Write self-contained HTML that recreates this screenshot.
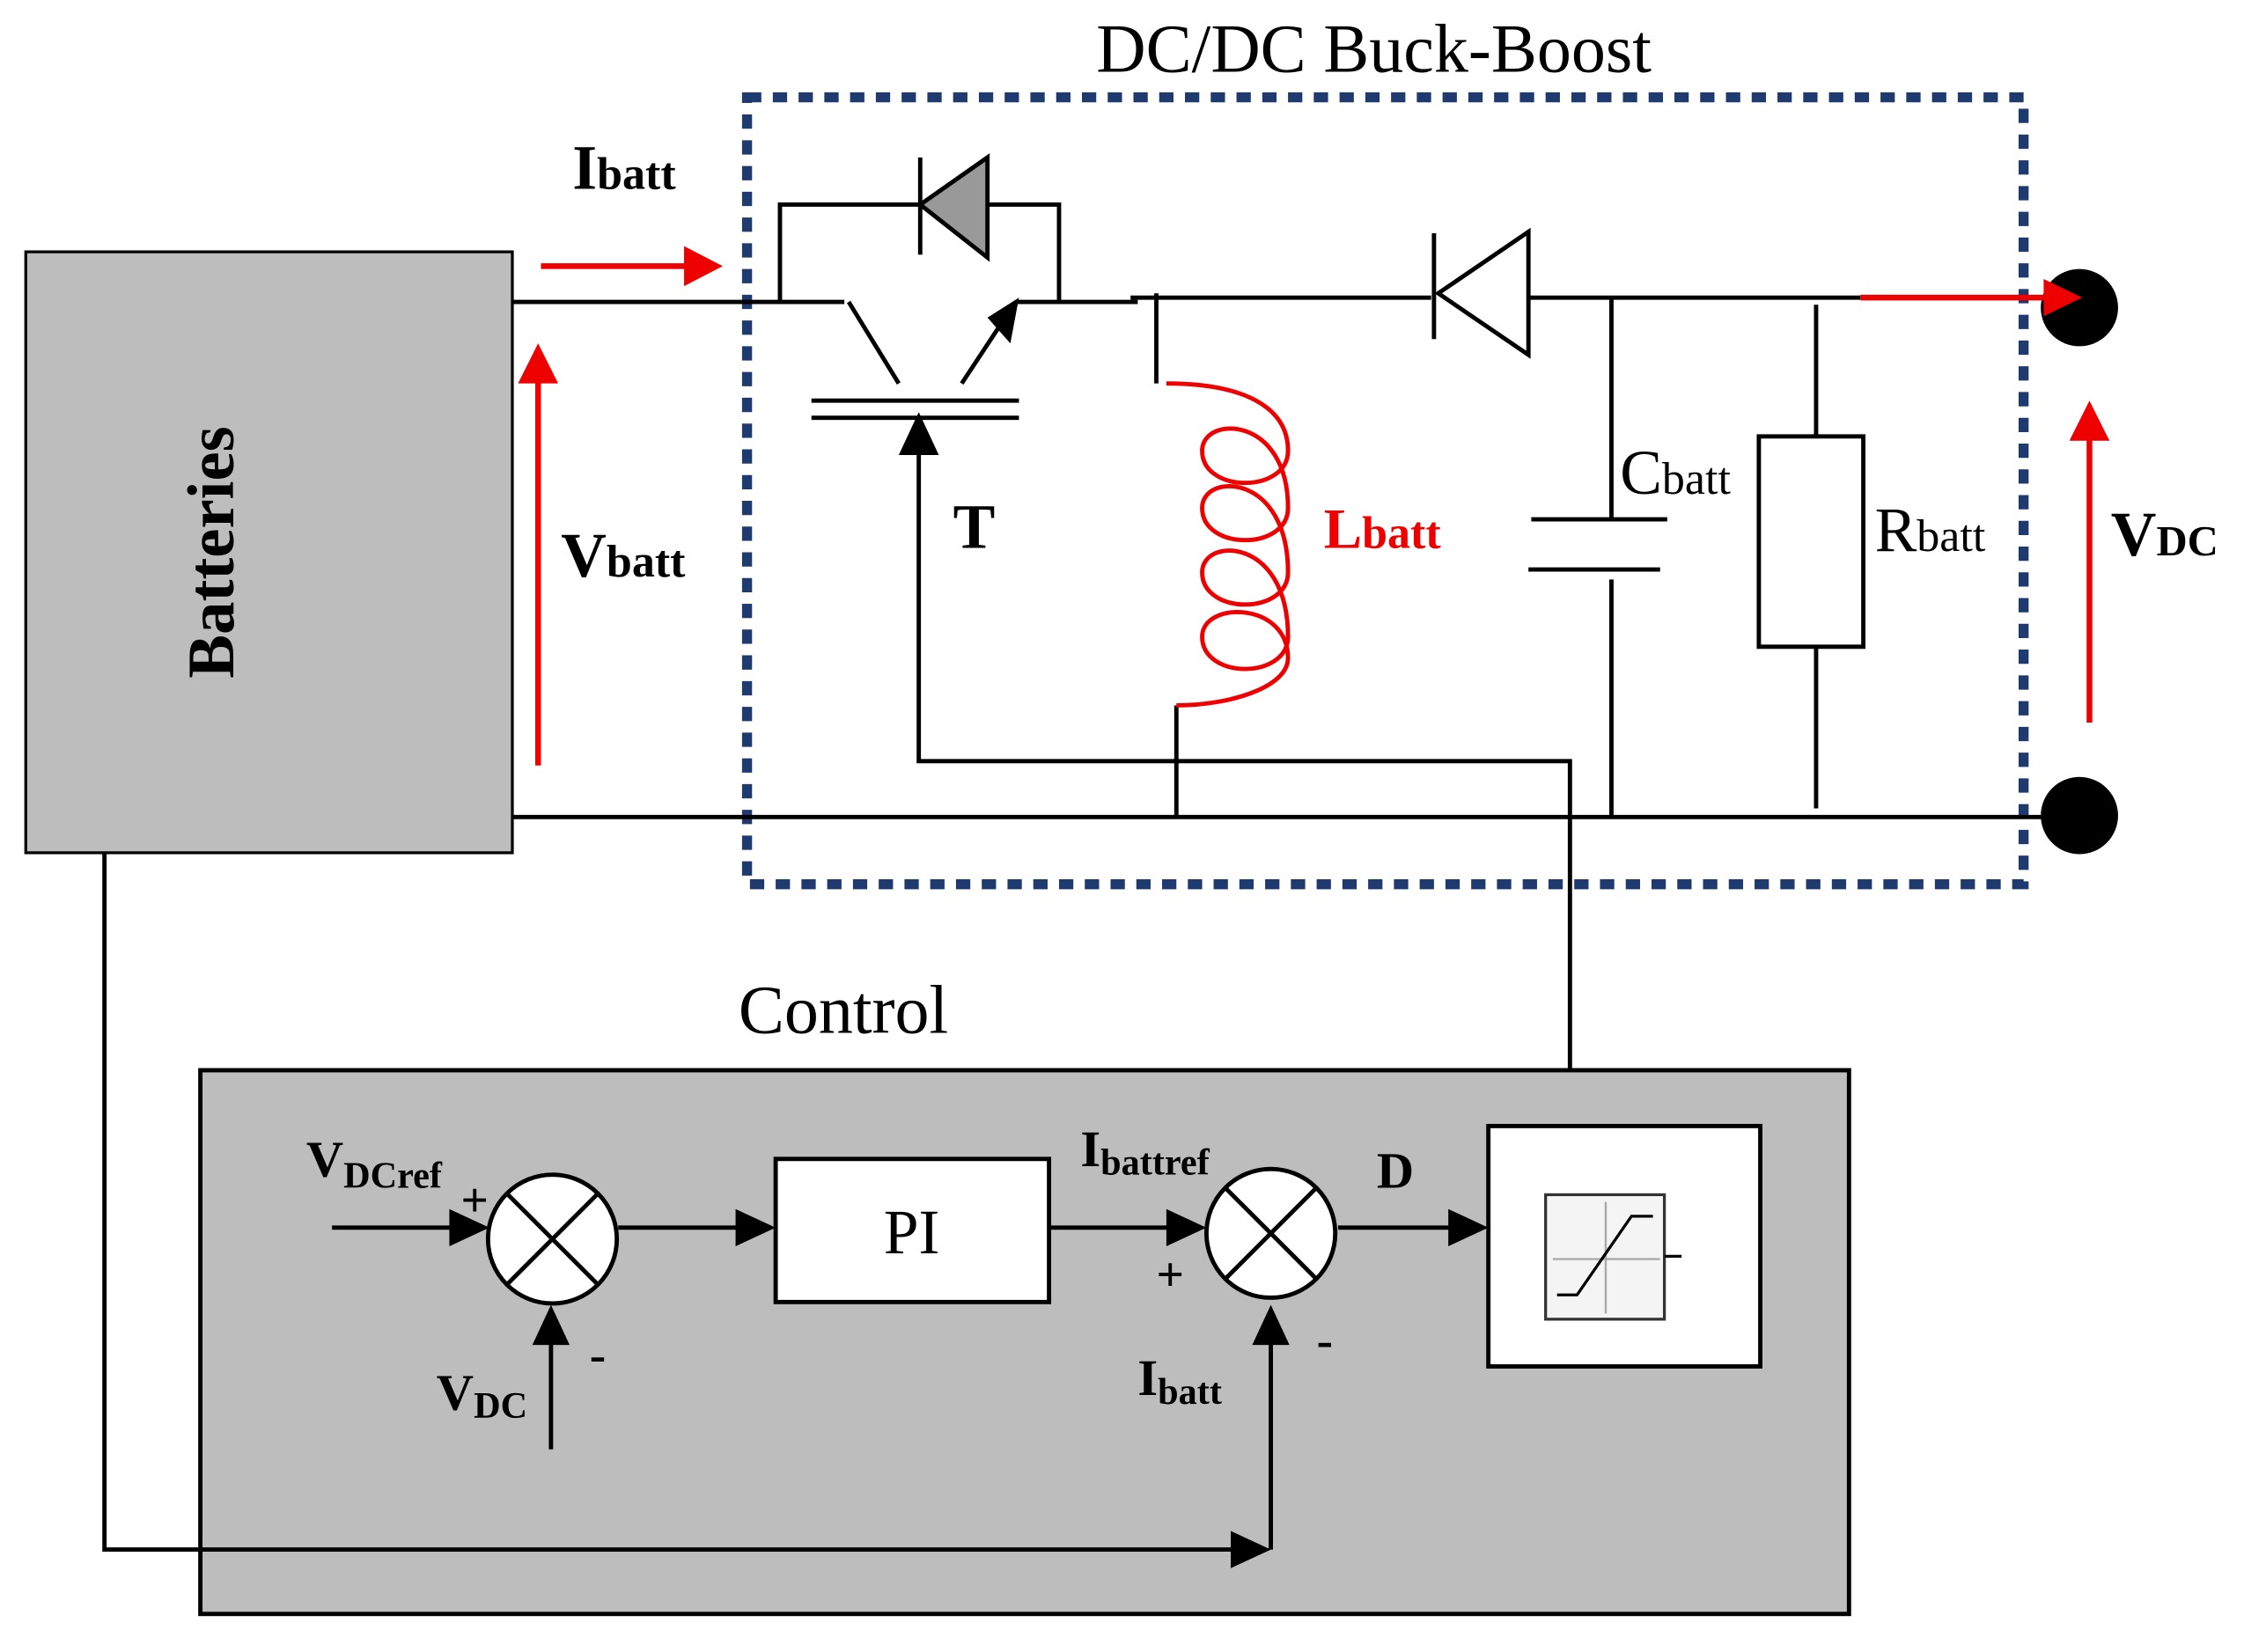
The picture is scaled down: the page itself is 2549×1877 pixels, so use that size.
<!DOCTYPE html>
<html><head><meta charset="utf-8"><style>
html,body{margin:0;padding:0;background:#fff;}
svg{display:block;}
text{font-family:"Liberation Serif",serif;}
</style></head><body>
<svg width="2549" height="1877" viewBox="0 0 1568 1154.6" preserveAspectRatio="none" xmlns="http://www.w3.org/2000/svg">
<rect width="1568" height="1155" fill="#fff"/>
<text x="960" y="50" font-size="48" text-anchor="middle">DC/DC Buck-Boost</text>
<rect x="522" y="68" width="892" height="550" fill="none" stroke="#1f3a6e" stroke-width="7" stroke-dasharray="10,8"/>
<rect x="18" y="176" width="340" height="420" fill="#bdbdbd" stroke="#000" stroke-width="2"/>
<text transform="translate(163,386) rotate(-90)" font-size="46" font-weight="bold" text-anchor="middle">Batteries</text>
<g stroke="#000" stroke-width="3" fill="none">
<path d="M358 211 H590 M593 211 L628 268 M672 268 L705 218 M710 211 H795"/>
<path d="M358 571 H1452"/>
<path d="M567 280 H712 M567 292 H712"/>
<path d="M642 310 V532 H1097 V778"/>
<path d="M545 211 V143 H643 M690 143 H740 V211"/>
<path d="M643 110 V178"/>
<path d="M790 208 H1000 M808 205 V268"/>
<path d="M1002 163 V237 M1068 208 H1300"/>
<path d="M822 493 V571"/>
<path d="M1126 208 V363 M1070 363 H1165 M1068 398 H1160 M1126 405 V571"/>
<path d="M1269 213 V305 M1269 452 V565"/>
<rect x="1229" y="305" width="73" height="147"/>
</g>
<polygon points="690,110 690,180 643,143" fill="#999" stroke="#000" stroke-width="3"/>
<polygon points="1068,162 1068,248 1005,205" fill="#fff" stroke="#000" stroke-width="3"/>
<polygon points="712,208 690,222 706,240" fill="#000"/>
<polygon points="642,288 628,318 656,318" fill="#000"/>
<path d="M815 268 C870 268 900 285 900 315 C900 345 840 345 840 315 C840 290 900 290 900 355 C900 385 840 385 840 355 C840 330 900 330 900 400 C900 430 840 430 840 400 C840 375 900 375 900 445 C900 475 840 475 840 445 C840 420 900 420 900 460 C900 480 860 493 822 493" fill="none" stroke="#e00" stroke-width="3"/>
<circle cx="1453" cy="215" r="27"/><circle cx="1453" cy="570" r="27"/>
<g stroke="#e00" stroke-width="4" fill="#e00">
<line x1="378" y1="186" x2="480" y2="186"/><polygon points="505,186 478,172 478,200" stroke="none"/>
<line x1="376" y1="535" x2="376" y2="265"/><polygon points="376,240 362,268 390,268" stroke="none"/>
<line x1="1300" y1="208" x2="1430" y2="208"/><polygon points="1455,208 1428,195 1428,221" stroke="none"/>
<line x1="1460" y1="505" x2="1460" y2="305"/><polygon points="1460,280 1446,308 1474,308" stroke="none"/>
</g>
<text x="400" y="132" font-size="44" font-weight="bold">I<tspan font-size="32">batt</tspan></text>
<text x="392" y="403" font-size="44" font-weight="bold">V<tspan font-size="32">batt</tspan></text>
<text x="666" y="383" font-size="44" font-weight="bold">T</text>
<text x="925" y="383" font-size="40" font-weight="bold" fill="#e00">L<tspan font-size="32">batt</tspan></text>
<text x="1132" y="345" font-size="44">C<tspan font-size="32">batt</tspan></text>
<text x="1310" y="385" font-size="44">R<tspan font-size="32">batt</tspan></text>
<text x="1475" y="388" font-size="44" font-weight="bold">V<tspan font-size="30">DC</tspan></text>
<text x="516" y="722" font-size="48">Control</text>
<rect x="140" y="748" width="1152" height="380" fill="#bdbdbd" stroke="#000" stroke-width="3"/>
<g stroke="#000" stroke-width="3" fill="none">
<path d="M73 596 V1083 H865"/>
<path d="M232 858 H318 M432 858 H518 M733 858 H820 M935 858 H1015"/>
<path d="M385 1013 V935 M888 1083 V935"/>
</g>
<g fill="#000">
<polygon points="342,858 314,845 314,871"/>
<polygon points="542,858 514,845 514,871"/>
<polygon points="843,858 815,845 815,871"/>
<polygon points="1040,858 1012,845 1012,871"/>
<polygon points="385,912 372,940 398,940"/>
<polygon points="888,912 875,940 901,940"/>
<polygon points="888,1083 860,1070 860,1096"/>
</g>
<g stroke="#000" stroke-width="3" fill="#fff">
<circle cx="386" cy="866" r="45"/><circle cx="888" cy="862" r="45"/>
<rect x="542" y="810" width="191" height="100"/>
<rect x="1040" y="787" width="190" height="168"/>
</g>
<path d="M354 834 L418 898 M418 834 L354 898 M856 830 L920 894 M920 830 L856 894" stroke="#000" stroke-width="3"/>
<rect x="1080" y="835" width="83" height="87" fill="#f4f4f4" stroke="#333" stroke-width="2"/>
<path d="M1122 840 V918 M1085 880 H1160" stroke="#aaa" stroke-width="1.5"/>
<path d="M1088 905 H1102 L1140 850 H1155" fill="none" stroke="#000" stroke-width="2"/>
<path d="M1163 878 H1175" stroke="#000" stroke-width="2"/>
<text x="637" y="876" font-size="44" text-anchor="middle">PI</text>
<text x="214" y="822" font-size="36" font-weight="bold">V<tspan font-size="26" dy="8">DCref</tspan></text>
<text x="322" y="850" font-size="34" font-weight="bold">+</text>
<text x="412" y="958" font-size="34" font-weight="bold">-</text>
<text x="305" y="985" font-size="36" font-weight="bold">V<tspan font-size="26" dy="6">DC</tspan></text>
<text x="755" y="815" font-size="36" font-weight="bold">I<tspan font-size="26" dy="6">battref</tspan></text>
<text x="808" y="902" font-size="34" font-weight="bold">+</text>
<text x="962" y="830" font-size="36" font-weight="bold">D</text>
<text x="795" y="975" font-size="36" font-weight="bold">I<tspan font-size="26" dy="6">batt</tspan></text>
<text x="920" y="948" font-size="34" font-weight="bold">-</text>
</svg>
</body></html>
